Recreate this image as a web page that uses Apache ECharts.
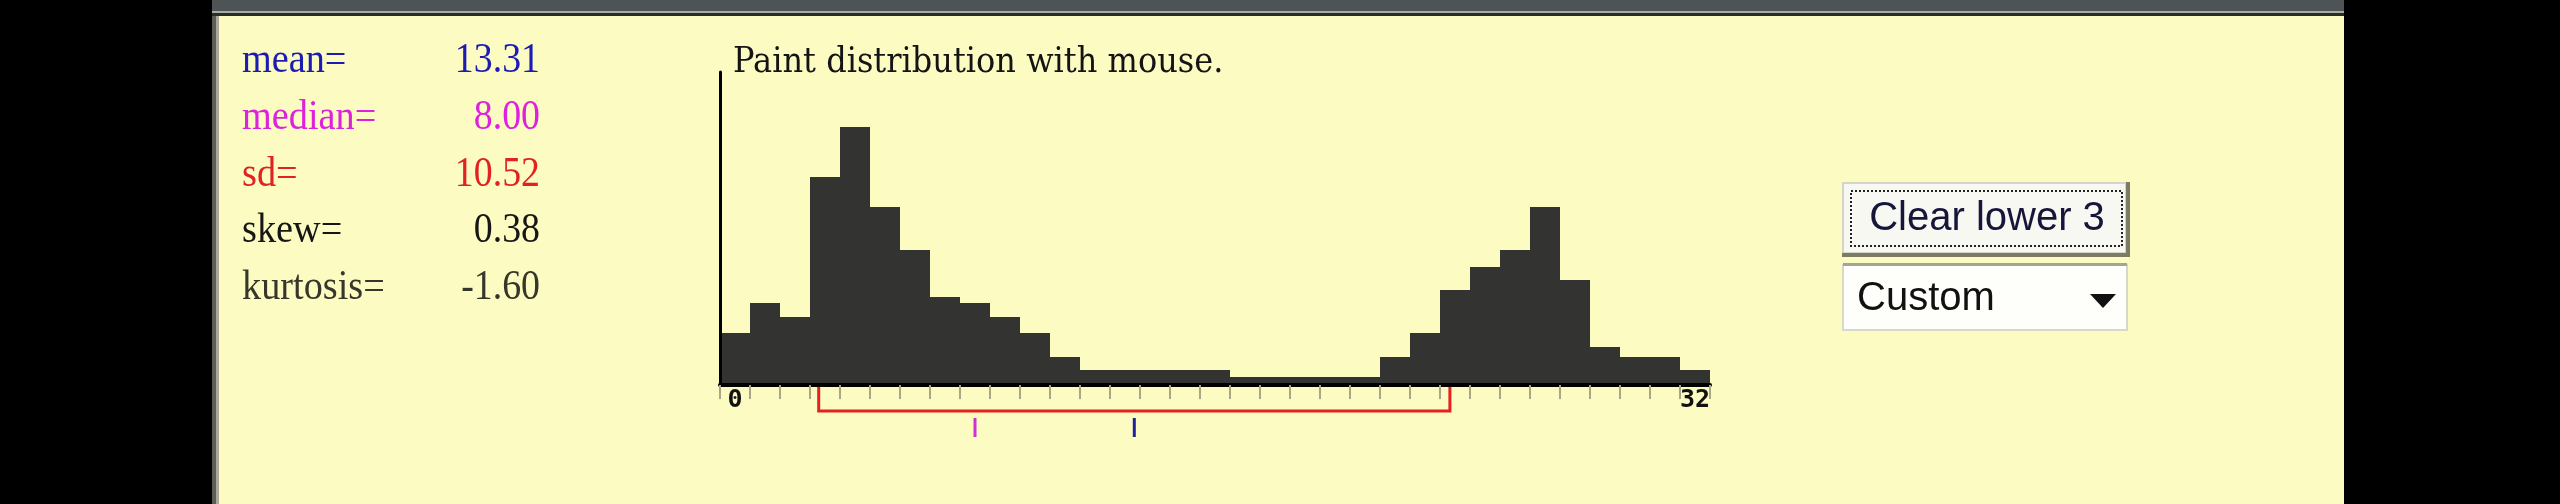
<!DOCTYPE html>
<html>
<head>
<meta charset="utf-8">
<title>Paint distribution</title>
<script src="https://cdn.jsdelivr.net/npm/echarts@6/dist/echarts.min.js"></script>
<style>
  html, body { margin: 0; padding: 0; background: #000; }
  #chart { width: 2560px; height: 504px; }
</style>
</head>
<body>
<div id="chart"></div>
<script>
// histogram bins 0..32 and painted heights
var bins = [];
for (var b = 0; b <= 32; b++) bins.push(String(b));
var counts = [52, 82, 68, 208, 258, 178, 135, 88, 82, 68, 52, 28, 15, 15, 15, 15, 15,
              8, 8, 8, 8, 8, 28, 52, 95, 118, 135, 178, 105, 38, 28, 28, 15];

// summary statistics shown on the left
var statNames = ['mean=', 'median=', 'sd=', 'skew=', 'kurtosis='];
var statValues = ['13.31', '8.00', '10.52', '0.38', '-1.60'];
var statColors = ['#1c1cb4', '#dc22dc', '#e02222', '#161616', '#36362a'];
var mean = 13.31, median = 8.00, sd = 10.52;

var myChart = echarts.init(document.getElementById('chart'));

var graphics = [
    // black surround and window strip
    {type: 'rect', shape: {x: 0, y: 0, width: 212, height: 504}, style: {fill: '#000'}},
    {type: 'rect', shape: {x: 2344, y: 0, width: 216, height: 504}, style: {fill: '#000'}},
    {type: 'rect', shape: {x: 212, y: 0, width: 2132, height: 11}, style: {fill: '#4e5456'}},
    {type: 'rect', shape: {x: 212, y: 11, width: 2132, height: 2}, style: {fill: '#a8aca6'}},
    {type: 'rect', shape: {x: 212, y: 13, width: 2132, height: 3}, style: {fill: '#2a2e22'}},
    {type: 'rect', shape: {x: 212, y: 16, width: 4, height: 488}, style: {fill: '#5c5c58'}},
    {type: 'rect', shape: {x: 216, y: 16, width: 3, height: 488}, style: {fill: '#a8a898'}},
    // title
    {type: 'text', x: 733, y: 63, scaleX: 0.89, style: {
        text: 'Paint distribution with mouse.', font: '36px "DejaVu Serif"', fill: '#141414',
        textAlign: 'left', align: 'left', textVerticalAlign: 'middle', verticalAlign: 'middle'}},
    // "Clear lower 3" button
    {type: 'rect', shape: {x: 1842, y: 182, width: 288, height: 75}, style: {fill: '#7c7c64'}},
    {type: 'rect', shape: {x: 1842, y: 182, width: 284, height: 71}, style: {fill: '#d4d4c8'}},
    {type: 'rect', shape: {x: 1844, y: 184, width: 281, height: 68}, style: {fill: '#f8f8f2'}},
    {type: 'rect', shape: {x: 1851, y: 191, width: 271, height: 55},
        style: {fill: null, stroke: '#222', lineWidth: 2, lineDash: [2, 2]}},
    {type: 'text', x: 1987, y: 219, style: {
        text: 'Clear lower 3', font: '40px "Liberation Sans"', fill: '#16163a',
        textAlign: 'center', align: 'center', textVerticalAlign: 'middle', verticalAlign: 'middle'}},
    // "Custom" drop-down
    {type: 'rect', shape: {x: 1843, y: 265, width: 284, height: 65},
        style: {fill: '#fefefa', stroke: '#d8d8c8', lineWidth: 2}},
    {type: 'rect', shape: {x: 1843, y: 263, width: 284, height: 3}, style: {fill: '#a4a494'}},
    {type: 'text', x: 1857, y: 299, style: {
        text: 'Custom', font: '40px "Liberation Sans"', fill: '#111',
        textAlign: 'left', align: 'left', textVerticalAlign: 'middle', verticalAlign: 'middle'}},
    {type: 'polygon', shape: {points: [[2090, 294], [2116, 294], [2103, 308]]}, style: {fill: '#111'}}
];

var rowBase = 61, rowStep = 56.7;
statNames.forEach(function (name, i) {
    graphics.push({type: 'text', x: 242, y: rowBase + i * rowStep, scaleX: 0.89, style: {
        text: name, font: '43px "Liberation Serif"', fill: statColors[i],
        textAlign: 'left', align: 'left', textVerticalAlign: 'middle', verticalAlign: 'middle'}});
    graphics.push({type: 'text', x: 540, y: rowBase + i * rowStep, scaleX: 0.88, style: {
        text: statValues[i], font: '43px "Liberation Serif"', fill: statColors[i],
        textAlign: 'right', align: 'right', textVerticalAlign: 'middle', verticalAlign: 'middle'}});
});

var option = {
    backgroundColor: '#fcfcc2',
    animation: false,
    grid: {left: 720, right: 850, top: 72, bottom: 119},
    xAxis: [
        {
            type: 'category',
            data: bins,
            boundaryGap: true,
            z: 5,
            axisLine: {show: true, lineStyle: {color: '#000', width: 4}},
            axisTick: {show: true, interval: 0, length: 14, lineStyle: {color: '#a8a888', width: 2}},
            axisLabel: {
                interval: function (index) { return index === 0 || index === 32; },
                showMinLabel: true, showMaxLabel: true,
                margin: 3, color: '#111', fontSize: 25, fontWeight: 'bold',
                fontFamily: 'DejaVu Sans Mono'
            },
            splitLine: {show: false}
        },
        {
            type: 'value', min: -0.5, max: 32.5, show: false
        }
    ],
    yAxis: [
        {
            type: 'value', min: 0, max: 313, z: 5,
            axisLine: {show: true, onZero: false, lineStyle: {color: '#000', width: 3}},
            axisTick: {show: false},
            axisLabel: {show: false},
            splitLine: {show: false}
        }
    ],
    graphic: graphics,
    series: [
        {
            name: 'painted',
            type: 'bar',
            xAxisIndex: 0,
            barCategoryGap: '0%',
            itemStyle: {color: '#333331'},
            data: counts
        },
        {
            name: 'markers',
            type: 'custom',
            xAxisIndex: 1,
            clip: false,
            encode: {x: 0, y: 1},
            data: [[mean, median, sd]],
            renderItem: function (params, api) {
                var m = api.value(0), med = api.value(1), s = api.value(2);
                var base = api.coord([m, 0])[1];
                var lo = api.coord([m - s, 0])[0];
                var hi = api.coord([m + s, 0])[0];
                var xMed = api.coord([med, 0])[0];
                var xMean = api.coord([m, 0])[0];
                return {
                    type: 'group',
                    children: [
                        {type: 'polyline', shape: {points: [[lo, base], [lo, base + 26], [hi, base + 26], [hi, base]]},
                            style: {fill: null, stroke: '#e42020', lineWidth: 3}},
                        {type: 'line', shape: {x1: xMed, y1: base + 33, x2: xMed, y2: base + 52},
                            style: {stroke: '#d030d0', lineWidth: 3}},
                        {type: 'line', shape: {x1: xMean, y1: base + 33, x2: xMean, y2: base + 52},
                            style: {stroke: '#2020a0', lineWidth: 3}}
                    ]
                };
            }
        }
    ]
};
myChart.setOption(option, true);
window.onresize = function () {
    setTimeout(function () {
        myChart.resize();
    }, 200);
};
</script>
</body>
</html>
